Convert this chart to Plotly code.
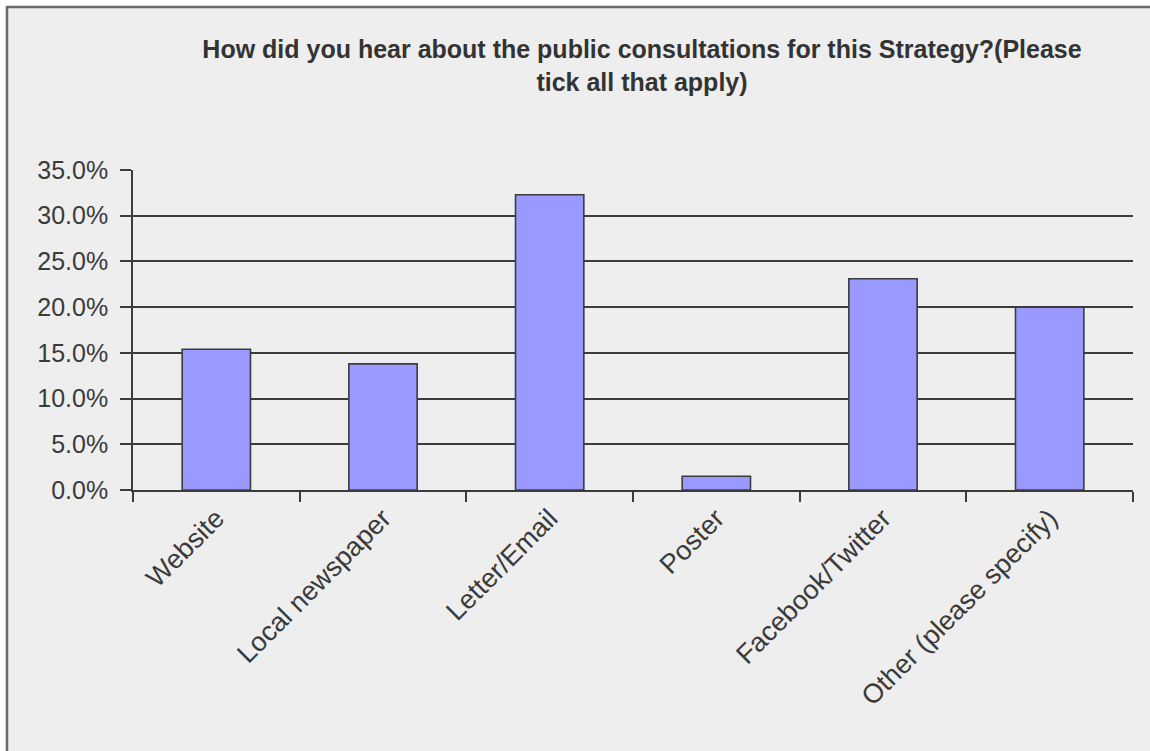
import plotly.graph_objects as go

# Survey responses: share of respondents per source (multiple answers allowed)
categories = ["Website", "Local newspaper", "Letter/Email", "Poster",
              "Facebook/Twitter", "Other (please specify)"]
shares = [0.154, 0.138, 0.323, 0.015, 0.231, 0.200]
y_ticks = [0.0, 0.05, 0.10, 0.15, 0.20, 0.25, 0.30, 0.35]

title_text = ("How did you hear about the public consultations for this Strategy?(Please"
              "<br>tick all that apply)")

W, H = 1150, 751
L, R, T, B = 133, 17, 170, 261

FONT = "Liberation Sans, Arial, sans-serif"
TEXT = "#3a3a3a"
LINE = "#3c3c3c"

fig = go.Figure(
    go.Bar(
        x=categories,
        y=shares,
        width=0.41,
        marker=dict(color="#9999ff", line=dict(color=LINE, width=1.6)),
        hoverinfo="x+y",
    )
)

# chart frame with light grey fill, open towards the right/bottom edge;
# placed in pixels relative to the plot area's bottom-left corner
fig.add_shape(
    type="rect", layer="below",
    xref="paper", xsizemode="pixel", xanchor=0,
    yref="paper", ysizemode="pixel", yanchor=0,
    x0=7 - L, x1=W + 20 - L,
    y0=-(B + 20), y1=(H - B) - 7,
    fillcolor="#eeeeee", line=dict(color="#6a6a6a", width=2.5),
)

fig.update_layout(
    width=W, height=H,
    margin=dict(l=L, r=R, t=T, b=B, pad=0),
    paper_bgcolor="white",
    plot_bgcolor="rgba(0,0,0,0)",
    showlegend=False,
    title=dict(
        text=title_text,
        x=642 / W, xanchor="center", xref="container",
        y=1 - 58 / H, yanchor="top", yref="container",
        font=dict(family=FONT, size=25, color="#333333", weight="bold"),
    ),
    font=dict(family=FONT, color=TEXT),
)

fig.update_xaxes(
    type="category",
    tickangle=-45,
    tickson="boundaries",
    ticks="outside", ticklen=10, tickwidth=1.6, tickcolor=LINE,
    showline=True, linecolor=LINE, linewidth=1.6,
    showgrid=False,
    tickfont=dict(family=FONT, size=27, color=TEXT),
)

fig.update_yaxes(
    range=[0, 0.35],
    tickvals=y_ticks,
    tickformat=".1%",
    ticks="outside", ticklen=11, tickwidth=1.6, tickcolor=LINE,
    showline=True, linecolor=LINE, linewidth=1.6,
    showgrid=True, gridcolor=LINE, gridwidth=1.6,
    zeroline=False,
    tickfont=dict(family=FONT, size=25, color=TEXT),
    ticklabelstandoff=7,
)

fig.write_html("out.html")
